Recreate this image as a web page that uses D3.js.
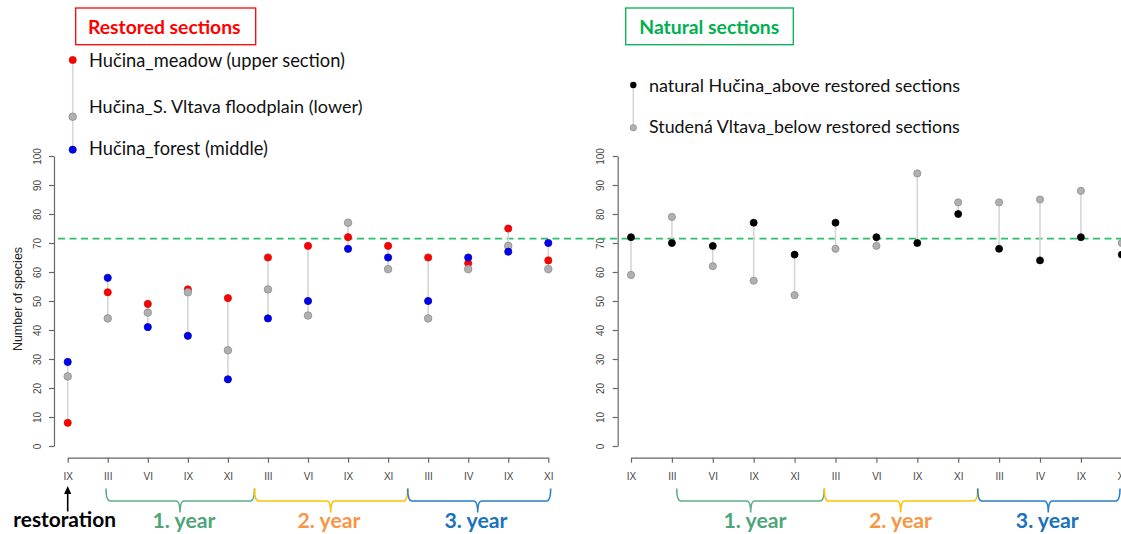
<!DOCTYPE html>
<html><head><meta charset="utf-8">
<script src="https://cdn.jsdelivr.net/npm/d3@7"></script>
<style>body{margin:0;background:#fff}svg{display:block}</style>
</head><body>
<svg id="c" width="1121" height="534"></svg>
<script>
// ---- data ----
const months = ["IX","III","VI","IX","XI","III","VI","IX","XI","III","IV","IX","XI"];
const meadow      = [8,53,49,54,51,65,69,72,69,65,63,75,64];
const floodplain  = [24,44,46,53,33,54,45,77,61,44,61,69,61];
const forest      = [29,58,41,38,23,44,50,68,65,50,65,67,70];
const naturalAbove = [72,70,69,77,66,77,72,70,80,68,64,72,66];
const studenaBelow = [59,79,62,57,52,68,69,94,84,84,85,88,70];
const referenceValue = 71.5;
const yTicks = [0,10,20,30,40,50,60,70,80,90,100];
const leftLegend = ["Hučina_meadow (upper section)","Hučina_S. Vltava floodplain (lower)","Hučina_forest (middle)"];
const rightLegend = ["natural Hučina_above restored sections","Studená Vltava_below restored sections"];
const yearLabels = ["1. year","2. year","3. year"];

const svg = d3.select("#c");
const AX = "Liberation Sans, Arial, sans-serif";
const CAL = "Lato, 'Open Sans', sans-serif";

const y = d3.scaleLinear().domain([0,100]).range([446,156]);
const idx = d3.range(months.length);
const xL = d3.scalePoint().domain(idx).range([67.7,548.3]);
const xR = d3.scalePoint().domain(idx).range([631,1121.8]);

function fit(sel, w){
  const n = sel.node(); const cur = n.getComputedTextLength();
  const fs = parseFloat(sel.attr("font-size"));
  if(cur>0) sel.attr("font-size", fs*w/cur);
  return sel;
}

function yAxis(x0){
  const g = svg.append("g").attr("transform",`translate(${x0},0)`)
    .call(d3.axisLeft(y).tickValues(yTicks).tickSize(5).tickSizeOuter(0));
  g.select(".domain").attr("stroke","#666").attr("stroke-width",1.2);
  g.selectAll(".tick line").attr("stroke","#666").attr("stroke-width",1.2);
  g.selectAll(".tick text").attr("x",0).attr("dy",0).attr("text-anchor","middle")
    .attr("transform","translate(-13.4,0) rotate(-90)")
    .attr("font-family",AX).attr("font-size",10).attr("fill","#444");
}
function xAxis(x){
  const g = svg.append("g").attr("transform","translate(0,457.7)")
    .call(d3.axisBottom(x).tickFormat(i=>months[i]).tickSize(5).tickSizeOuter(0).tickPadding(10.7));
  g.select(".domain").attr("stroke","#666").attr("stroke-width",1.2);
  g.selectAll(".tick line").attr("stroke","#666").attr("stroke-width",1.2);
  g.selectAll(".tick text").attr("font-family",AX).attr("font-size",10).attr("fill","#444");
}

yAxis(54); yAxis(617.7);
xAxis(xL); xAxis(xR);

// y title
svg.append("text").attr("transform","translate(21.5,299) rotate(-90)")
  .attr("text-anchor","middle").attr("font-family",AX).attr("font-size",12.5)
  .attr("fill","#222").text("Number of species");

// reference dashed line
svg.append("line").attr("x1",58).attr("x2",1121).attr("y1",y(referenceValue)).attr("y2",y(referenceValue))
  .attr("stroke","#2dbd6e").attr("stroke-width",1.7).attr("stroke-dasharray","7,4.5");

// connecting segments
function segs(x, series){
  svg.append("g").selectAll("line").data(idx).join("line")
    .attr("x1",i=>x(i)).attr("x2",i=>x(i))
    .attr("y1",i=>y(d3.min(series,s=>s[i]))).attr("y2",i=>y(d3.max(series,s=>s[i])))
    .attr("stroke","#d6d6d6").attr("stroke-width",1.6);
}
function pts(x, vals, fill, stroke, r){
  svg.append("g").selectAll("circle").data(idx).join("circle")
    .attr("cx",i=>x(i)).attr("cy",i=>y(vals[i])).attr("r",r)
    .attr("fill",fill).attr("stroke",stroke).attr("stroke-width",0.8);
}
segs(xL,[meadow,floodplain,forest]);
pts(xL,meadow,"#ff0000","#d01010",3.6);
pts(xL,floodplain,"#b0b0b0","#8e8e8e",3.8);
pts(xL,forest,"#0000f0","#0000b0",3.6);

segs(xR,[naturalAbove,studenaBelow]);
pts(xR,studenaBelow,"#b0b0b0","#8e8e8e",3.6);
pts(xR,naturalAbove,"#000","#000",3.5);

// title boxes
svg.append("rect").attr("x",75.7).attr("y",8).attr("width",180).attr("height",36.7)
  .attr("fill","none").attr("stroke","#ff0000").attr("stroke-width",1.3);
fit(svg.append("text").attr("x",88).attr("y",34).attr("font-family",CAL).attr("font-weight","bold")
  .attr("font-size",18).attr("fill","#ff0000").text("Restored sections"),152.7);
svg.append("rect").attr("x",625.7).attr("y",8).attr("width",167.6).attr("height",36.7)
  .attr("fill","none").attr("stroke","#00b050").attr("stroke-width",1.3);
fit(svg.append("text").attr("x",639.3).attr("y",34).attr("font-family",CAL).attr("font-weight","bold")
  .attr("font-size",18).attr("fill","#00b050").text("Natural sections"),140);

// left legend
svg.append("line").attr("x1",72.7).attr("x2",72.7).attr("y1",60).attr("y2",149.7).attr("stroke","#d6d6d6").attr("stroke-width",1.6);
svg.append("circle").attr("cx",72.7).attr("cy",60).attr("r",3.6).attr("fill","#ff0000").attr("stroke","#d01010").attr("stroke-width",0.8);
svg.append("circle").attr("cx",72.7).attr("cy",116.7).attr("r",3.8).attr("fill","#b0b0b0").attr("stroke","#8e8e8e").attr("stroke-width",0.8);
svg.append("circle").attr("cx",72.7).attr("cy",149.7).attr("r",3.6).attr("fill","#0000f0").attr("stroke","#0000b0").attr("stroke-width",0.8);
const llY=[66.7,112.7,155], llW=[256,273.7,179];
leftLegend.forEach((t,k)=>fit(svg.append("text").attr("x",89).attr("y",llY[k]).attr("font-family",CAL)
  .attr("font-size",16).attr("fill","#111").text(t),llW[k]));

// right legend
svg.append("line").attr("x1",633.3).attr("x2",633.3).attr("y1",85).attr("y2",127.7).attr("stroke","#d6d6d6").attr("stroke-width",1.6);
svg.append("circle").attr("cx",633.3).attr("cy",85).attr("r",3.2).attr("fill","#000");
svg.append("circle").attr("cx",633.3).attr("cy",127.7).attr("r",3.2).attr("fill","#b0b0b0").attr("stroke","#8e8e8e").attr("stroke-width",0.7);
const rlY=[91.7,133.3], rlW=[311,311];
rightLegend.forEach((t,k)=>fit(svg.append("text").attr("x",649).attr("y",rlY[k]).attr("font-family",CAL)
  .attr("font-size",16).attr("fill","#111").text(t),rlW[k]));

// restoration arrow
svg.append("line").attr("x1",xL(0)).attr("x2",xL(0)).attr("y1",511.5).attr("y2",492).attr("stroke","#000").attr("stroke-width",1.6);
svg.append("path").attr("d",`M${xL(0)},486 L${xL(0)-3.6},494 L${xL(0)+3.6},494 Z`).attr("fill","#000");
fit(svg.append("text").attr("x",13.3).attr("y",527).attr("font-family",CAL).attr("font-weight","bold")
  .attr("font-size",18).attr("fill","#000").text("restoration"),102.7);

// year braces
function brace(x1,x2,cx,color){
  const yt=488.5, yh=501, yc=512.5, r=4;
  svg.append("path").attr("d",
    `M${x1},${yt} Q${x1},${yh} ${x1+r},${yh} L${cx-r},${yh} Q${cx},${yh} ${cx},${yc} Q${cx},${yh} ${cx+r},${yh} L${x2-r},${yh} Q${x2},${yh} ${x2},${yt}`)
    .attr("fill","none").attr("stroke",color).attr("stroke-width",1.6);
}
const braceColors=["#5bae86","#ffc000","#2a7fc6"];
const textColors=["#4fa57a","#f79646","#1a72bc"];
// left
const mid=(a,b)=>(a+b)/2;
const lB=[[106,254.5],[254.5,407.7],[407.7,550.7]];
const lC=[180,330.7,477.7], lT=[184,329,476];
const rB=[[676.7,824.3],[824.3,977.7],[977.7,1120]];
const rC=[750.7,900.7,1048.3], rT=[755,900.5,1047.3];
[0,1,2].forEach(k=>{
  brace(lB[k][0],lB[k][1],lC[k],braceColors[k]);
  brace(rB[k][0],rB[k][1],rC[k],braceColors[k]);
  fit(svg.append("text").attr("x",lT[k]).attr("y",528).attr("text-anchor","middle").attr("font-family",CAL)
    .attr("font-weight","bold").attr("font-size",18).attr("fill",textColors[k]).text(yearLabels[k]),63);
  fit(svg.append("text").attr("x",rT[k]).attr("y",528).attr("text-anchor","middle").attr("font-family",CAL)
    .attr("font-weight","bold").attr("font-size",18).attr("fill",textColors[k]).text(yearLabels[k]),63);
});
</script>
</body></html>
